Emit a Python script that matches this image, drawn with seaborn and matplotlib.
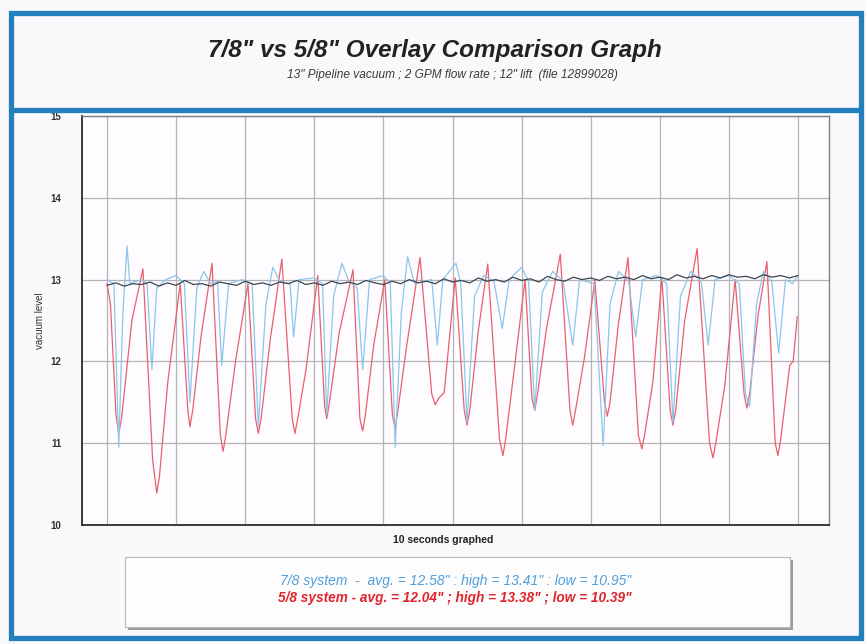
import numpy as np
import pandas as pd
import matplotlib
matplotlib.use("Agg")
import matplotlib.pyplot as plt
import seaborn as sns
from matplotlib.patches import Rectangle
from matplotlib.lines import Line2D

# ---------------- data ----------------
title = '7/8" vs 5/8" Overlay Comparison Graph'
subtitle = '13" Pipeline vacuum ; 2 GPM flow rate ; 12" lift  (file 12899028)'
x_label = "10 seconds graphed"
y_label = "vacuum level"
y_ticks = [10, 11, 12, 13, 14, 15]
x_grid = [0, 1, 2, 3, 4, 5, 6, 7, 8, 9, 10]
legend_78 = '7/8 system  -  avg. = 12.58" : high = 13.41" : low = 10.95"'
legend_58 = '5/8 system - avg. = 12.04" ; high = 13.38" ; low = 10.39"'

# 5/8 system (red) - vertices in seconds / inches of vacuum
red_t = [0.00, 0.05, 0.13, 0.17, 0.21, 0.36, 0.52, 0.66, 0.72, 0.76, 0.88, 1.06, 1.17, 1.20, 1.24,
         1.36, 1.52, 1.64, 1.68, 1.72, 1.86, 2.04, 2.15, 2.19, 2.23, 2.36, 2.53, 2.68, 2.72, 2.76,
         2.88, 3.05, 3.15, 3.18, 3.22, 3.36, 3.56, 3.66, 3.70, 3.74, 3.86, 4.02, 4.13, 4.17, 4.21,
         4.33, 4.53, 4.70, 4.75, 4.80, 4.88, 5.04, 5.17, 5.21, 5.25, 5.37, 5.51, 5.68, 5.73, 5.77,
         5.90, 6.05, 6.15, 6.19, 6.23, 6.36, 6.56, 6.70, 6.74, 6.78, 6.91, 7.06, 7.20, 7.24, 7.28,
         7.40, 7.54, 7.69, 7.74, 7.78, 7.90, 8.03, 8.15, 8.19, 8.23, 8.36, 8.54, 8.72, 8.77, 8.81,
         8.94, 9.09, 9.22, 9.26, 9.30, 9.42, 9.55, 9.67, 9.71, 9.75, 9.88, 9.93, 9.99]
red_v = [12.95, 12.70, 11.35, 11.12, 11.30, 12.50, 13.13, 10.80, 10.39, 10.60, 11.75, 12.95, 11.40, 11.20, 11.40,
         12.30, 13.20, 11.10, 10.90, 11.10, 12.00, 12.95, 11.30, 11.12, 11.30, 12.25, 13.25, 11.30, 11.12, 11.30,
         11.90, 13.05, 11.45, 11.30, 11.50, 12.35, 13.12, 11.30, 11.15, 11.35, 12.20, 13.00, 11.35, 11.18, 11.40,
         12.15, 13.27, 11.60, 11.47, 11.55, 11.62, 13.02, 11.40, 11.22, 11.40, 12.35, 13.19, 11.05, 10.85, 11.05,
         11.95, 13.00, 11.55, 11.40, 11.60, 12.40, 13.31, 11.40, 11.22, 11.40, 12.05, 12.99, 11.50, 11.33, 11.50,
         12.45, 13.27, 11.10, 10.93, 11.10, 11.75, 13.02, 11.40, 11.22, 11.40, 12.50, 13.38, 11.00, 10.82, 11.00,
         11.70, 13.00, 11.60, 11.43, 11.60, 12.55, 13.22, 11.00, 10.85, 11.05, 11.95, 12.00, 12.55]

# 7/8 system (light blue)
blue_t = [0.00, 0.10, 0.17, 0.23, 0.29, 0.33, 0.50, 0.58, 0.65, 0.72, 0.85, 1.00,
          1.12, 1.20, 1.30, 1.40, 1.50, 1.60, 1.66, 1.76, 1.95, 2.10, 2.19, 2.30,
          2.40, 2.50, 2.65, 2.70, 2.78, 3.00, 3.12, 3.18, 3.28, 3.40, 3.50, 3.62,
          3.70, 3.80, 4.00, 4.10, 4.17, 4.26, 4.35, 4.45, 4.70, 4.78, 4.86, 5.05,
          5.12, 5.21, 5.32, 5.45, 5.60, 5.72, 5.82, 6.00, 6.10, 6.19, 6.30, 6.45,
          6.60, 6.74, 6.84, 7.05, 7.18, 7.28, 7.40, 7.55, 7.65, 7.75, 7.95, 8.10,
          8.19, 8.30, 8.45, 8.60, 8.70, 8.80, 9.00, 9.15, 9.24, 9.30, 9.40, 9.50,
          9.62, 9.72, 9.82, 9.92, 10.00]
blue_v = [13.00, 12.95, 10.95, 12.60, 13.41, 12.95, 13.00, 12.95, 11.90, 12.90, 13.00, 13.05,
          12.95, 11.50, 12.90, 13.10, 12.95, 12.98, 11.95, 12.95, 13.00, 12.95, 11.20, 12.70,
          13.15, 12.98, 12.95, 12.30, 13.00, 13.02, 12.95, 11.35, 12.80, 13.20, 12.98, 12.90,
          11.90, 13.00, 13.05, 12.95, 10.95, 12.60, 13.28, 12.95, 13.00, 12.20, 13.00, 13.20,
          12.95, 11.25, 12.80, 13.05, 12.98, 12.40, 13.00, 13.15, 12.98, 11.40, 12.85, 13.10,
          12.98, 12.20, 13.00, 12.95, 10.97, 12.70, 13.10, 12.98, 12.30, 13.00, 13.05, 12.95,
          11.25, 12.80, 13.10, 12.98, 12.20, 13.00, 13.05, 12.95, 11.60, 11.45, 12.70, 13.10,
          12.98, 12.10, 13.00, 12.95, 13.05]

# dark reference trace near 13"
dark_v = [12.93, 12.96, 12.92, 12.95, 12.94, 12.97, 12.92, 12.96, 12.93, 12.99, 12.94, 12.95,
          12.92, 12.97, 12.95, 12.93, 12.98, 12.94, 12.96, 12.93, 12.97, 12.95, 12.99, 12.94,
          12.96, 12.93, 12.98, 12.95, 12.97, 12.94, 12.99, 12.96, 12.94, 12.98, 12.95, 13.00,
          12.96, 12.98, 12.95, 13.01, 12.97, 12.99, 12.96, 13.02, 12.98, 13.00, 12.97, 13.03,
          12.99, 13.01, 12.97, 13.04, 13.00, 12.98, 13.03, 13.00, 13.02, 12.99, 13.04, 13.01,
          13.03, 13.00, 13.05, 13.01, 13.03, 13.00, 13.06, 13.02, 13.04, 13.01, 13.05, 13.02,
          13.06, 13.03, 13.04, 13.01, 13.06, 13.03, 13.05, 13.02, 13.05]
dark_t = list(np.linspace(0, 10, len(dark_v)))

# ---------------- figure ----------------
W, H = 866, 644
sns.set_style("white")
plt.rcParams["font.family"] = ["Liberation Sans", "DejaVu Sans"]

fig = plt.figure(figsize=(W / 100, H / 100), dpi=100)
bg = "#fbf8fb"
fig.patch.set_facecolor(bg)

def fx(px):
    return px / W

def fy(py):
    return 1 - py / H

ax = fig.add_axes([fx(82), fy(525), fx(829) - fx(82), fy(116) - fy(525)])
ax.set_facecolor("#fefcfe")

red_df = pd.DataFrame({"t": red_t, "v": red_v})
blue_df = pd.DataFrame({"t": blue_t, "v": blue_v})
dark_df = pd.DataFrame({"t": dark_t, "v": dark_v})

sns.lineplot(data=red_df, x="t", y="v", ax=ax, color="#e8606e", lw=0.9,
             estimator=None, sort=False, zorder=3)
sns.lineplot(data=blue_df, x="t", y="v", ax=ax, color="#8cc6ea", lw=0.9,
             estimator=None, sort=False, zorder=4)
sns.lineplot(data=dark_df, x="t", y="v", ax=ax, color="#3c4650", lw=0.9,
             estimator=None, sort=False, zorder=5)

x0 = (82 - 107) / 69.1
x1 = (829 - 107) / 69.1
ax.set_xlim(x0, x1)
ax.set_ylim(10, 15)
ax.set_xticks(x_grid)
ax.set_xticklabels([])
ax.set_yticks(y_ticks)
ax.set_yticklabels([str(v) for v in y_ticks], fontsize=7, fontweight="bold", color="#333333")
ax.tick_params(axis="both", length=0)
ax.tick_params(axis="y", pad=15)
ax.grid(True, color="#b4b4b8", lw=0.9)
ax.set_axisbelow(True)
ax.set_xlabel("")
ax.set_ylabel(y_label, fontsize=7, color="#333333")
ax.yaxis.set_label_coords(-0.05, 0.5)
for side in ["left", "bottom"]:
    ax.spines[side].set_color("#2a2a2a")
    ax.spines[side].set_linewidth(1.3)
for side in ["top", "right"]:
    ax.spines[side].set_color("#808080")
    ax.spines[side].set_linewidth(1.0)

fig.text(fx(443), fy(540), x_label, ha="center", va="center", fontsize=7.5,
         fontweight="bold", color="#222222")

# title area
fig.text(fx(435), fy(51), title, ha="center", va="center", fontsize=17.5,
         fontweight="bold", fontstyle="italic", color="#222222")
fig.text(fx(452), fy(75), subtitle, ha="center", va="center", fontsize=8.6,
         fontstyle="italic", color="#3a3a3a")

# legend box with drop shadow
fig.add_artist(Rectangle((fx(128), fy(630)), fx(790) - fx(125), fy(557) - fy(627),
                         transform=fig.transFigure, facecolor="#9c9c9c", edgecolor="none", zorder=1))
fig.add_artist(Rectangle((fx(125), fy(627)), fx(790) - fx(125), fy(557) - fy(627),
                         transform=fig.transFigure, facecolor="#fefdfe", edgecolor="#b8b8b8",
                         lw=0.8, zorder=2))
fig.text(fx(456), fy(581), legend_78, ha="center", va="center", fontsize=10,
         fontstyle="italic", color="#4f9fdc", zorder=3)
fig.text(fx(455), fy(598), legend_58, ha="center", va="center", fontsize=9.8,
         fontstyle="italic", fontweight="bold", color="#e0242c", zorder=3)

# blue page frame and divider
frame_c = "#2480bc"
fig.add_artist(Rectangle((fx(11), fy(638)), fx(861) - fx(11), fy(13) - fy(638),
                         transform=fig.transFigure, fill=False, edgecolor=frame_c, lw=3.8, zorder=10))
fig.add_artist(Line2D([fx(11), fx(861)], [fy(110), fy(110)], transform=fig.transFigure,
                      color=frame_c, lw=3.8, zorder=10))

fig.savefig("out.png", dpi=100, facecolor=bg)
